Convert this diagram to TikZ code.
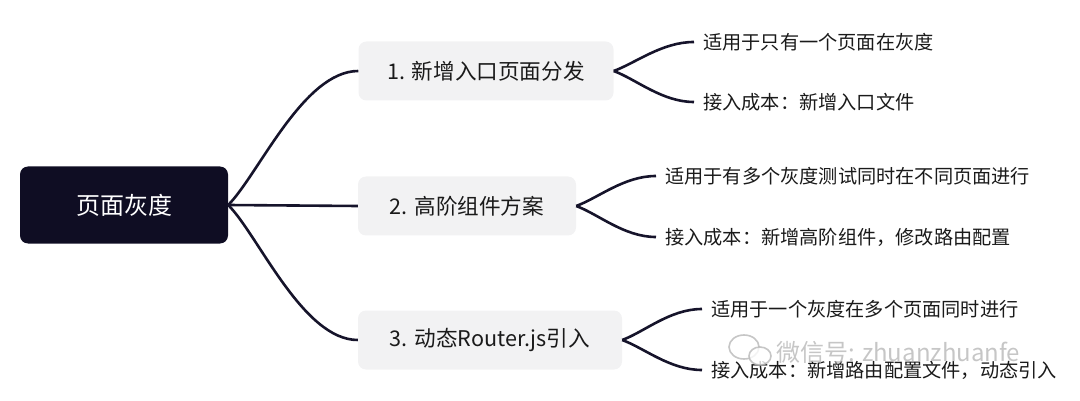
\documentclass[tikz,border=0pt]{standalone}
\usepackage{fontspec}
\setmainfont{Noto Sans CJK SC}
\definecolor{rootc}{HTML}{0F0D23}
\definecolor{boxc}{HTML}{F2F2F3}
\definecolor{linec}{HTML}{16142B}
\definecolor{txtc}{HTML}{1A1A1A}
\definecolor{wmc}{HTML}{B8B8B8}
\begin{document}
\begin{tikzpicture}[x=1pt,y=-1pt,
  rootbox/.style={fill=rootc,rounded corners=8pt,text=white,minimum width=208pt,minimum height=77pt,inner sep=0pt,font=\fontsize{24}{28}\selectfont},
  branchbox/.style={fill=boxc,rounded corners=8pt,text=txtc,minimum height=59pt,inner sep=0pt,font=\fontsize{21.6}{25}\selectfont},
  leaf/.style={anchor=west,text=txtc,inner xsep=9pt,inner ysep=0pt,font=\fontsize{19.2}{23}\selectfont},
  conn/.style={draw=linec,line width=2.6pt},
  wm/.style={text=wmc,opacity=0.8,font=\fontsize{24}{28}\selectfont,inner sep=0pt,anchor=west}]
\useasboundingbox (0,0) rectangle (1080,401);
\node[rootbox] (root) at (124,205) {页面灰度};
\node[branchbox,minimum width=255pt] (b1) at (486,71) {1. 新增入口页面分发};
\node[branchbox,minimum width=218pt] (b2) at (467,206) {2. 高阶组件方案};
\node[branchbox,minimum width=264pt] (b3) at (490,340) {3. 动态Router.js引入};
\node[leaf] (l1a) at (694,42) {适用于只有一个页面在灰度};
\node[leaf] (l1b) at (694,102) {接入成本：新增入口文件};
\node[leaf] (l2a) at (656,176) {适用于有多个灰度测试同时在不同页面进行};
\node[leaf] (l2b) at (656,237) {接入成本：新增高阶组件，修改路由配置};
\node[leaf] (l3a) at (702,309) {适用于一个灰度在多个页面同时进行};
\node[leaf] (l3b) at (702,370) {接入成本：新增路由配置文件，动态引入};
\draw[conn] (root.east) .. controls +(30,-30) and +(-55,0) .. (b1.west);
\draw[conn] (root.east) -- (b2.west);
\draw[conn] (root.east) .. controls +(30,30) and +(-55,0) .. (b3.west);
\foreach \b/\l in {b1/l1a,b2/l2a,b3/l3a}{
  \draw[conn] (\b.east) .. controls +(22,-8) and +(-32,0) .. (\l.west);
}
\foreach \b/\l in {b1/l1b,b2/l2b,b3/l3b}{
  \draw[conn] (\b.east) .. controls +(22,8) and +(-32,0) .. (\l.west);
}
% watermark
\draw[wmc,opacity=0.8,line width=1.6pt] (744,347) ellipse [x radius=15pt,y radius=12pt];
\draw[wmc,opacity=0.8,line width=1.6pt,fill=white] (760,356) ellipse [x radius=11pt,y radius=9pt];
\node[wm] (wmt) at (776,352) {微信号: zhuanzhuanfe};
\end{tikzpicture}
\end{document}
